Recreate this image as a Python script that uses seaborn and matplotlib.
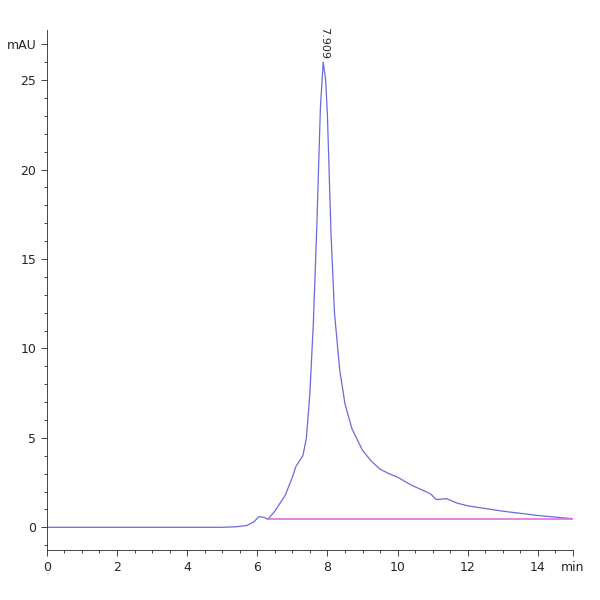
import matplotlib
matplotlib.use("Agg")
import matplotlib.pyplot as plt
import seaborn as sns
import numpy as np
from matplotlib.ticker import MultipleLocator

sns.set_style("ticks")
plt.rcParams['font.family'] = ['Liberation Sans Narrow', 'DejaVu Sans']

time_min = [0, 5.0, 5.4, 5.7, 5.9, 6.05, 6.2, 6.3, 6.5, 6.8, 7.0, 7.1, 7.3, 7.4, 7.5,
            7.6, 7.7, 7.8, 7.88, 7.95, 8.0, 8.1, 8.2, 8.35, 8.5, 8.7, 9.0, 9.25,
            9.5, 9.75, 10.0, 10.4, 10.8, 10.95, 11.1, 11.4, 11.7, 12.0, 12.5,
            13.0, 13.5, 14.0, 14.5, 15.0]
signal_mau = [0.0, 0.0, 0.03, 0.1, 0.3, 0.6, 0.55, 0.45, 0.9, 1.8, 2.8, 3.4, 4.0,
              5.0, 7.5, 11.5, 17.0, 23.5, 26.0, 25.0, 23.0, 16.5, 12.0, 8.8,
              6.9, 5.5, 4.3, 3.7, 3.25, 3.0, 2.8, 2.35, 2.0, 1.85, 1.55, 1.6,
              1.35, 1.2, 1.05, 0.9, 0.78, 0.66, 0.57, 0.48]
baseline_x = [6.3, 15.0]
baseline_y = [0.45, 0.45]
peak_time = 7.909
peak_label = "7.909"

fig = plt.figure(figsize=(6, 6), dpi=100)
ax = fig.add_axes([0.078, 0.083, 0.877, 0.867])
sns.lineplot(x=time_min, y=signal_mau, ax=ax, color="#6b6bdc", lw=0.9)
sns.lineplot(x=baseline_x, y=baseline_y, ax=ax, color="#e070e0", lw=1.2)

ax.set_xlim(0, 15)
ax.set_ylim(-1.28, 27.8)
ax.xaxis.set_major_locator(MultipleLocator(2))
ax.xaxis.set_minor_locator(MultipleLocator(0.5))
ax.set_yticks([0, 5, 10, 15, 20, 25, 27])
ax.set_yticklabels(["0", "5", "10", "15", "20", "25", "mAU"])
ax.yaxis.set_minor_locator(MultipleLocator(1))
ax.set_xticks([0, 2, 4, 6, 8, 10, 12, 14, 15])
ax.set_xticklabels(["0", "2", "4", "6", "8", "10", "12", "14", "min"])
ax.tick_params(labelsize=9, length=4, width=0.6)
ax.tick_params(which="minor", length=2, width=0.6)
for s in ["top", "right"]:
    ax.spines[s].set_visible(False)
for s in ["left", "bottom"]:
    ax.spines[s].set_linewidth(0.6)
ax.text(peak_time, 26.2, peak_label, rotation=-90, ha="center", va="bottom", fontsize=8)

fig.savefig("out.png", dpi=100)
